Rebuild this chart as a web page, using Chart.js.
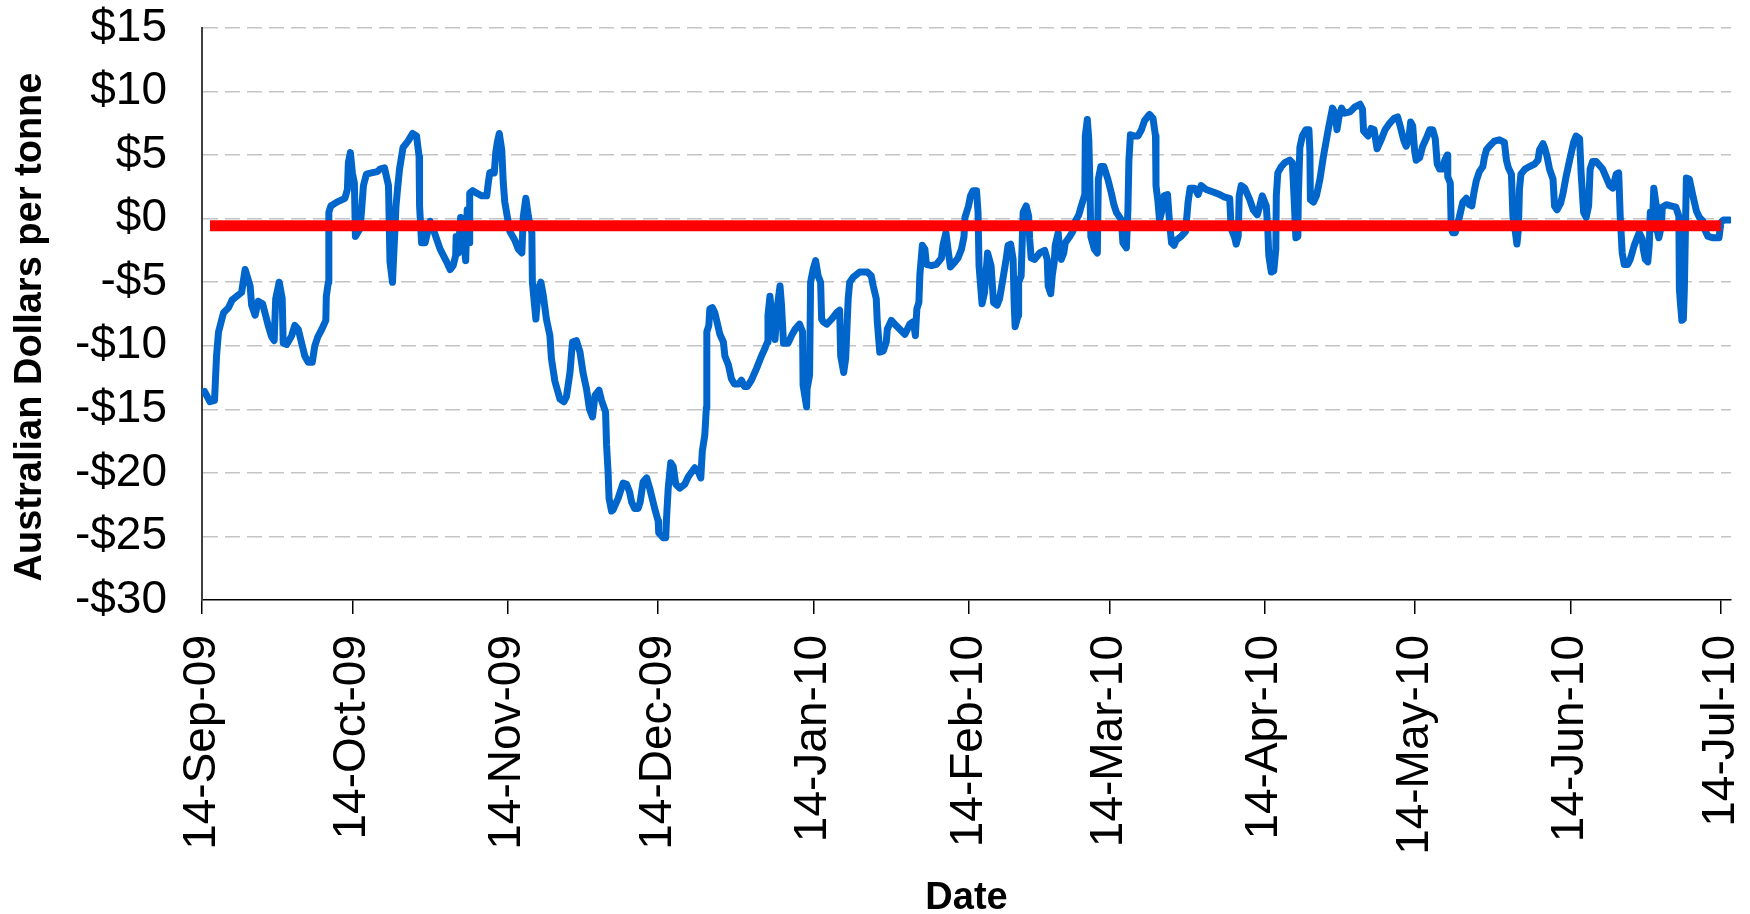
<!DOCTYPE html>
<html>
<head>
<meta charset="utf-8">
<title>Spread - Australian Dollars per tonne</title>
<script src="https://cdn.jsdelivr.net/npm/chart.js@4.4.1/dist/chart.umd.min.js"></script>
<style>
	html, body { margin: 0; padding: 0; background: #fff; }
	#spreadChart { display: block; }
</style>
</head>
<body>
<canvas id="spreadChart" width="1750" height="914"></canvas>
<script>
// days counted from 14-Sep-09
const spreadDays = [
	0.5,1.6,2.5,2.9,3.3,4.3,5.3,6.0,7.9,8.6,
	9.6,9.9,10.6,11.2,12.1,13.2,13.9,14.4,14.7,15.4,
	16.0,16.2,16.9,17.9,18.5,19.2,20.5,21.2,22.0,22.5,
	23.1,23.9,24.7,24.8,25.2,25.3,25.7,26.9,28.5,29.0,
	29.2,29.6,30.0,30.4,30.6,31.5,31.8,32.2,32.8,33.8,
	35.0,35.5,36.4,37.2,37.5,38.0,38.7,39.0,39.4,40.1,
	41.1,42.0,42.8,43.3,43.4,43.8,44.5,44.8,45.5,46.1,
	47.5,48.8,49.5,50.1,50.6,50.7,51.1,51.6,52.1,52.6,
	52.9,53.3,53.4,54.0,54.8,55.8,56.8,57.1,57.4,58.1,
	58.3,58.6,58.9,59.3,59.8,60.1,60.4,61.4,62.4,63.1,
	63.8,64.1,64.6,65.1,65.8,65.9,66.6,67.1,67.6,68.1,
	68.7,69.4,69.7,70.4,71.4,72.2,72.7,73.4,73.9,74.7,
	75.4,76.0,76.7,77.3,77.9,78.4,79.2,79.7,80.5,80.7,
	81.0,81.2,81.7,82.0,83.0,84.0,84.7,85.3,85.7,86.3,
	87.0,87.4,88.0,88.7,89.3,90.3,91.0,91.1,92.0,92.5,
	92.7,93.0,93.5,94.0,94.5,95.3,96.3,97.0,98.3,98.9,
	99.5,99.8,100.3,100.6,100.7,101.1,101.3,101.8,102.3,102.9,
	103.3,104.0,104.3,105.0,105.6,106.2,107.1,107.6,108.2,108.8,
	109.6,110.6,111.6,112.3,112.8,112.9,113.3,113.7,114.3,114.8,
	115.3,115.6,116.0,116.9,117.6,118.3,119.2,119.8,119.9,120.6,
	120.7,121.2,121.4,121.9,122.4,122.9,123.4,123.6,123.9,124.6,
	125.6,126.6,127.2,127.4,128.0,128.4,128.9,129.2,129.9,131.2,
	132.7,133.5,133.9,134.5,134.7,135.2,135.9,136.5,136.7,137.5,
	138.2,139.2,140.2,141.2,141.9,142.3,142.6,143.0,143.2,143.7,
	144.2,144.5,145.5,146.5,147.5,147.8,148.4,148.9,149.3,150.2,
	150.8,151.5,152.0,152.2,152.9,153.3,153.8,154.5,154.8,155.0,
	155.6,156.1,156.7,157.4,157.9,158.6,159.1,159.7,160.4,160.8,
	161.3,161.8,162.0,162.2,162.8,162.9,163.4,163.8,164.4,164.9,
	165.1,165.4,166.1,167.1,168.1,168.6,168.8,169.3,169.6,170.0,
	170.2,170.8,171.1,171.4,171.9,172.2,173.1,173.7,174.1,174.9,
	175.4,176.1,176.2,176.6,176.9,177.1,177.3,178.0,178.6,178.8,
	179.3,179.9,180.7,181.4,181.9,182.4,183.4,183.7,184.4,184.7,
	184.9,185.2,186.0,186.7,187.4,188.0,189.0,189.7,190.2,190.3,
	190.7,191.0,191.4,191.9,192.6,193.0,193.4,193.9,194.3,195.3,
	196.2,196.7,197.1,198.0,198.7,199.3,200.3,201.7,203.0,204.0,
	205.0,205.3,206.0,206.3,206.7,206.9,207.3,208.0,209.0,209.7,
	210.5,211.0,211.5,212.3,212.6,212.8,213.3,213.8,214.2,214.3,
	214.6,215.3,216.0,217.0,217.5,217.8,218.2,218.6,218.7,219.0,
	219.5,220.2,220.8,221.0,221.1,221.7,222.3,223.0,223.7,224.7,
	225.5,226.0,226.4,226.8,227.3,227.9,229.0,230.0,231.0,231.5,
	231.7,232.6,233.2,233.8,234.4,235.2,236.0,236.9,237.8,238.5,
	239.0,239.7,240.2,240.7,241.1,241.5,241.9,242.2,242.9,243.5,
	244.2,244.9,245.5,246.0,246.4,246.9,247.5,247.9,248.4,248.5,
	249.0,249.2,249.5,250.0,250.8,251.5,252.2,252.8,253.3,253.7,
	254.2,254.8,255.5,255.8,256.2,256.8,257.8,258.8,259.8,260.2,
	260.6,261.2,261.5,262.0,262.3,262.6,262.8,263.1,263.9,264.8,
	265.8,266.5,266.8,267.5,267.8,268.3,268.8,269.5,269.8,270.3,
	271.0,271.5,272.1,272.8,273.6,274.1,274.8,275.1,275.6,276.1,
	276.6,276.9,277.4,278.1,279.4,280.8,281.4,282.1,282.6,282.9,
	283.3,283.7,284.4,284.9,285.7,286.7,287.3,287.5,287.9,288.4,
	288.7,288.9,289.3,289.6,290.1,290.2,290.6,291.1,291.3,292.1,
	293.0,294.0,294.6,294.7,294.9,295.2,295.5,295.7,295.9,296.1,
	296.7,297.4,298.1,298.7,299.4,299.7,300.4,301.4,302.6,303.0,
	303.5,304.4,304.7
];

// A$ per tonne
const spreadValues = [
	-13.6,-14.4,-14.3,-10.8,-8.9,-7.4,-7.0,-6.4,-5.8,-4.0,
	-5.3,-6.8,-7.6,-6.5,-6.7,-8.4,-9.3,-9.6,-6.3,-5.0,
	-6.3,-9.8,-9.9,-9.2,-8.4,-8.7,-10.8,-11.3,-11.3,-10.0,
	-9.3,-8.7,-8.0,-6.1,-5.0,0.5,1.0,1.3,1.6,2.3,
	4.4,5.2,3.6,2.8,-1.4,-0.8,0.5,2.6,3.5,3.6,
	3.7,3.9,4.0,2.6,-3.4,-5.0,1.0,2.3,3.9,5.6,
	6.1,6.7,6.5,4.9,1.0,-1.9,-1.9,-1.4,-0.2,-0.8,
	-2.4,-3.4,-4.0,-3.7,-2.9,-1.4,-2.7,0.1,-1.4,-3.3,
	0.7,-1.9,2.0,2.2,2.0,1.8,1.8,2.8,3.6,3.7,
	3.6,5.2,6.0,6.7,5.4,2.8,1.3,-1.0,-1.7,-2.4,
	-2.7,0.2,1.6,0.2,-1.1,-5.0,-7.9,-5.5,-5.0,-6.1,
	-7.9,-9.2,-11.0,-12.8,-14.2,-14.4,-14.0,-12.1,-9.7,-9.6,
	-10.5,-12.1,-13.4,-15.0,-15.6,-13.9,-13.5,-14.3,-15.2,-17.8,
	-19.9,-22.0,-23.0,-22.9,-22.0,-20.8,-20.9,-21.5,-22.3,-22.8,
	-22.8,-22.3,-20.7,-20.4,-21.2,-22.8,-23.8,-24.7,-25.1,-25.1,
	-23.3,-21.2,-19.2,-19.5,-20.9,-21.2,-20.9,-20.3,-19.6,-19.8,
	-20.4,-18.3,-17.0,-14.9,-8.9,-8.4,-7.1,-7.0,-7.4,-8.4,
	-9.1,-9.7,-10.8,-11.5,-12.6,-13.0,-13.0,-12.7,-13.2,-13.2,
	-12.7,-11.8,-10.8,-10.2,-9.7,-7.6,-6.1,-7.9,-9.5,-6.8,
	-5.3,-6.8,-9.8,-9.8,-9.2,-8.7,-8.3,-8.9,-13.1,-14.8,
	-13.4,-12.3,-5.0,-4.0,-3.3,-4.5,-5.0,-7.9,-8.1,-8.3,
	-7.9,-7.4,-7.2,-10.8,-12.1,-11.0,-6.3,-5.0,-4.6,-4.2,
	-4.2,-4.5,-5.3,-6.3,-8.1,-10.5,-10.4,-9.7,-8.7,-8.0,
	-8.3,-8.7,-9.1,-8.3,-8.1,-9.2,-7.1,-6.6,-4.4,-2.1,
	-2.4,-3.6,-3.7,-3.6,-3.1,-2.1,-1.1,-2.7,-3.8,-3.4,
	-3.1,-2.4,-1.4,0.1,1.0,1.8,2.2,2.2,0.5,-3.7,
	-6.7,-5.8,-2.7,-3.7,-6.6,-6.8,-6.3,-4.9,-3.2,-2.1,
	-2.0,-3.2,-6.6,-8.5,-7.6,-5.0,-4.5,0.5,1.0,0.2,
	-1.6,-3.1,-3.2,-2.7,-2.5,-3.2,-5.3,-5.9,-4.5,-3.4,
	-2.1,-1.1,-2.7,-3.2,-2.7,-1.9,-1.4,-1.0,-0.3,0.3,
	1.0,1.9,6.5,7.8,6.2,3.1,-1.4,-2.4,-2.7,3.1,
	4.1,4.1,3.1,2.0,1.1,0.5,-0.1,-1.9,-2.3,0.7,
	4.6,6.6,6.5,6.5,7.0,7.7,8.2,7.9,6.5,2.6,
	1.3,-0.1,0.5,1.8,1.9,-0.3,-1.9,-2.1,-1.7,-1.4,
	-1.0,1.3,2.4,2.4,1.9,2.6,2.3,2.1,1.9,1.7,
	1.6,-0.8,-1.5,-2.0,-1.4,1.8,2.6,2.4,1.5,0.7,
	0.3,1.0,1.8,1.0,-0.8,-2.9,-4.2,-4.1,-2.4,1.8,
	3.6,4.1,4.4,4.6,4.4,2.0,-1.5,-1.4,1.8,5.6,
	6.5,7.0,7.0,5.3,1.5,1.3,1.8,3.1,4.9,7.1,
	8.7,8.3,7.0,8.0,8.7,8.3,8.4,8.8,9.0,8.6,
	6.9,6.5,7.1,7.0,5.5,6.2,7.0,7.5,7.9,8.0,
	7.3,6.2,5.7,6.2,7.6,7.3,5.3,4.6,4.8,5.7,
	6.3,7.0,7.0,6.3,4.3,3.9,3.9,4.6,5.0,3.3,
	2.8,-0.8,-1.1,-1.1,0.1,1.3,1.6,1.1,1.0,2.0,
	3.0,3.7,4.1,4.8,5.4,5.7,6.1,6.2,6.0,4.6,
	4.0,3.5,0.2,-1.1,-2.0,-0.8,2.3,3.5,3.9,4.1,
	4.3,4.6,5.4,5.9,5.6,4.9,3.9,3.1,1.0,0.7,
	1.2,2.0,3.3,4.6,6.0,6.5,6.3,3.6,0.5,0.1,
	1.0,3.9,4.5,4.5,3.9,2.6,2.4,3.5,3.6,0.2,
	-2.7,-3.6,-3.6,-3.2,-2.1,-1.1,-1.6,-2.4,-3.2,-3.4,
	-2.1,0.5,-0.8,2.4,1.0,-0.8,-1.5,-0.6,0.9,1.1,
	1.0,0.9,0.2,-5.5,-6.6,-8.0,-7.9,-5.5,-1.1,3.2,
	3.1,1.8,0.6,0.1,-0.2,-0.8,-1.4,-1.5,-1.5,-0.3,
	-0.1,-0.1,-0.1
];

// red reference line
const averageDays  = [1.6, 303.0];
const averageLevel = -0.55;

const tickDays   = [0, 30, 61, 91, 122, 153, 181, 212, 242, 273, 303];
const tickLabels = ['14-Sep-09', '14-Oct-09', '14-Nov-09', '14-Dec-09', '14-Jan-10', '14-Feb-10',
	'14-Mar-10', '14-Apr-10', '14-May-10', '14-Jun-10', '14-Jul-10'];

const yMin = -30, yMax = 15, yStep = 5;
const xMax = 305;

(function () {
	'use strict';

	const FONT = "'Liberation Sans', Arial, sans-serif";
	const Y_TITLE = 'Australian Dollars per tonne';

	let spreadPoints  = spreadDays.map((d, i) => ({ x: d, y: spreadValues[i] }));
	let averagePoints = averageDays.map(d => ({ x: d, y: averageLevel }));

	// the y title sits a little below the middle of the axis, so draw it by hand
	let yTitlePlugin = {
		id: 'yTitle',
		afterDraw: chart => {
			let c = chart.ctx;
			let area = chart.chartArea;
			c.save();
			c.translate(31, (area.top + area.bottom) / 2 + 13);
			c.rotate(-Math.PI / 2);
			c.font = 'bold 38px ' + FONT;
			c.fillStyle = '#000';
			c.textAlign = 'center';
			c.textBaseline = 'middle';
			c.fillText(Y_TITLE, 0, 0);
			c.restore();
		}
	};

	let ctx = document.getElementById('spreadChart').getContext('2d');

	new Chart(ctx, {
		type: 'line',
		data: {
			datasets: [{
				label: 'Average',
				data: averagePoints,
				borderColor: '#ff0000',
				borderWidth: 11,
				borderCapStyle: 'butt',
				pointRadius: 0,
				order: 0
			}, {
				label: 'Spread',
				data: spreadPoints,
				borderColor: '#0066cc',
				borderWidth: 7,
				borderJoinStyle: 'round',
				borderCapStyle: 'round',
				tension: 0,
				pointRadius: 0,
				order: 1
			}]
		},
		options: {
			responsive: false,
			animation: false,
			layout: { padding: { top: 28, right: 19, left: 0, bottom: 0 } },
			plugins: {
				legend: { display: false },
				tooltip: { enabled: false }
			},
			scales: {
				x: {
					type: 'linear',
					min: 0,
					max: xMax,
					afterBuildTicks: axis => {
						axis.ticks = tickDays.map(v => ({ value: v }));
					},
					afterFit: axis => {
						axis.height = 314;
						axis.paddingLeft = 0;
						axis.paddingRight = 0;
					},
					grid: {
						drawOnChartArea: false,
						drawTicks: true,
						tickLength: 14,
						color: '#000',
						lineWidth: 1.5
					},
					border: { color: '#000', width: 1.5 },
					ticks: {
						autoSkip: false,
						minRotation: 90,
						maxRotation: 90,
						padding: 21,
						color: '#000',
						font: { family: FONT, size: 46 },
						callback: value => tickLabels[tickDays.indexOf(value)]
					},
					title: {
						display: true,
						text: 'Date',
						color: '#000',
						font: { family: FONT, size: 38, weight: 'bold', lineHeight: 0.8 },
						padding: { top: 0, bottom: 0 }
					}
				},
				y: {
					min: yMin,
					max: yMax,
					afterFit: axis => {
						axis.width = 202;
						axis.paddingTop = 0;
						axis.paddingBottom = 0;
					},
					grid: {
						drawTicks: false,
						lineWidth: 1.5,
						color: c => (c.tick && c.tick.value === yMin) ? 'rgba(0,0,0,0)' : '#c4c4c4'
					},
					border: { color: '#404040', width: 2, dash: [15, 7] },
					ticks: {
						stepSize: yStep,
						padding: 35,
						color: '#000',
						font: { family: FONT, size: 46 },
						callback: v => (v < 0 ? '-$' : '$') + Math.abs(v)
					}
				}
			}
		},
		plugins: [yTitlePlugin]
	});
})();
</script>
</body>
</html>
